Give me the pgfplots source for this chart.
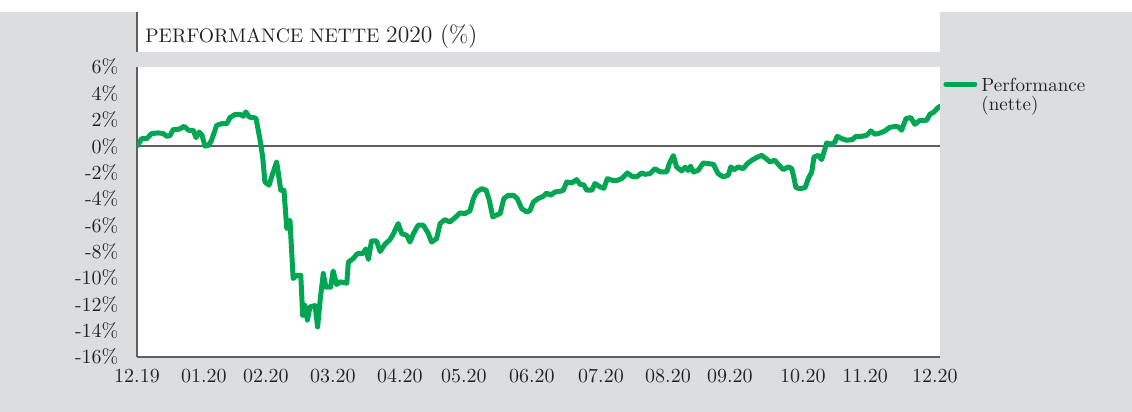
\documentclass[border=0pt]{standalone}
\usepackage{pgfplots}
\pgfplotsset{compat=1.18}
\definecolor{bg}{RGB}{220,221,223}
\definecolor{perf}{RGB}{0,166,81}
\definecolor{axgray}{RGB}{95,95,95}
\definecolor{txt}{RGB}{35,35,35}
\newcommand\lab{\fontsize{10}{10}\selectfont}
\newcommand\leg{\fontsize{9.5}{9.5}\selectfont}
\begin{document}
\begin{tikzpicture}
\fill[white] (-68.5pt,-27.5pt) rectangle (497.5pt,178.5pt);
\fill[bg] (-68.5pt,-27.5pt) rectangle (497.5pt,172.5pt);
\fill[white] (0pt,152.5pt) rectangle (401.5pt,178.5pt);
\draw[axgray, line width=0.8pt] (0pt,152.5pt) -- (0pt,172.5pt);
\node[anchor=base west, inner sep=0pt, text=txt] at (4pt,157pt) {{\fontsize{9.8}{10}\selectfont PERFORMANCE NETTE} {\fontsize{11.8}{12}\selectfont 2020 (\%)}};
\begin{axis}[
  at={(0pt,0pt)}, anchor=south west,
  scale only axis, width=401.5pt, height=145pt,
  xmin=0, xmax=253, ymin=-16, ymax=6,
  axis background/.style={fill=white},
  axis x line*=bottom, axis y line*=left,
  axis line style={-, draw=axgray, line width=0.6pt},
  major tick length=0pt,
  xtick={0,21.1,40.6,61.7,82.8,103,124.4,146.2,167.3,186.8,209.8,229.4,251.4},
  xticklabels={12.19,01.20,02.20,03.20,04.20,05.20,06.20,07.20,08.20,09.20,10.20,11.20,12.20},
  ytick={-16,-14,-12,-10,-8,-6,-4,-2,0,2,4,6},
  yticklabels={-16\%,-14\%,-12\%,-10\%,-8\%,-6\%,-4\%,-2\%,0\%,2\%,4\%,6\%},
  tick label style={font=\lab, text=txt},
  yticklabel style={xshift=-5.8pt},
  xticklabel style={yshift=-2.5pt},
  legend image code/.code={\draw[#1] (0pt,6pt) -- (14.5pt,6pt);},
  legend style={at={(axis description cs:1,1)}, anchor=north west, xshift=1.5pt, yshift=-3.5pt,
    draw=none, fill=none, inner sep=0pt, font=\leg, text=txt,
    cells={anchor=west, align=left}},
]
\addplot[axgray, line width=0.6pt, forget plot] coordinates {(0,0) (253,0)};
\addplot[perf, line width=2.5pt, line join=round, line cap=round] coordinates {
(0,0) (1.5,0.57) (3.1,0.57) (4.6,0.95) (6.7,1.0) (8.3,0.95) (9.4,0.74) (10.4,0.8) (11.4,1.25) (13.3,1.28) (14.9,1.5) (16.2,1.2) (17.7,1.2) (18.6,0.64) (19.6,1.07) (20.5,0.82) (21.4,0.0) (22.5,0.05) (23.5,0.44) (25.1,1.58) (26.7,1.7) (28.3,1.7) (29.3,2.16) (30.9,2.4) (32.5,2.4) (33.5,2.26) (34.3,2.59) (35.4,2.2) (36.7,2.16) (37.5,2.1) (38.8,0.44) (39.6,-0.83) (40.3,-2.72) (41.6,-2.97) (42.4,-2.34) (44.0,-1.2) (44.4,-1.84) (45.3,-3.35) (46.3,-3.35) (47.2,-6.26) (48.2,-5.63) (49.2,-10.05) (50.3,-9.8) (51.6,-9.8) (52.2,-12.84) (52.9,-12.08) (53.7,-13.2) (54.5,-12.2) (56.1,-12.1) (56.9,-13.72) (57.7,-11.7) (58.7,-9.67) (59.5,-10.7) (61.0,-10.7) (61.8,-9.47) (62.9,-10.5) (64.0,-10.3) (66.1,-10.4) (66.6,-8.8) (68.1,-8.54) (69.4,-8.16) (71.1,-8.16) (72.1,-7.8) (72.9,-8.6) (73.9,-7.2) (75.5,-7.2) (76.6,-8.0) (78.1,-7.45) (79.7,-7.1) (80.7,-6.7) (82.3,-5.88) (83.4,-6.64) (85.0,-6.77) (86.0,-7.28) (87.1,-6.64) (88.6,-6.0) (90.2,-6.0) (91.8,-6.64) (92.8,-7.28) (94.4,-7.02) (95.5,-5.88) (97.0,-5.58) (98.6,-5.76) (100.2,-5.43) (101.8,-5.07) (103.3,-5.12) (104.9,-4.92) (106.0,-3.98) (107.0,-3.48) (108.6,-3.23) (110.0,-3.35) (111.0,-4.11) (112.1,-5.38) (113.1,-5.25) (114.4,-5.12) (115.6,-3.98) (117.0,-3.73) (118.6,-3.73) (119.8,-3.98) (121.2,-4.74) (122.8,-5.0) (123.8,-4.9) (124.9,-4.24) (126.4,-3.98) (128.0,-3.81) (129.1,-3.56) (130.3,-3.73) (131.7,-3.48) (133.3,-3.43) (134.3,-3.35) (135.4,-2.72) (137.0,-2.8) (138.5,-2.54) (139.6,-2.9) (140.8,-2.95) (141.7,-3.35) (143.3,-3.35) (144.3,-2.84) (145.9,-3.1) (147.1,-3.2) (148.2,-2.47) (149.8,-2.6) (151.3,-2.6) (152.7,-2.47) (154.5,-2.04) (155.9,-2.29) (157.4,-2.34) (159.0,-2.04) (160.1,-2.14) (161.6,-2.09) (163.2,-1.71) (164.8,-1.96) (166.9,-1.96) (167.7,-1.33) (169.0,-0.72) (170.0,-1.58) (171.1,-1.78) (171.6,-1.89) (172.7,-1.6) (173.6,-1.85) (174.4,-1.53) (175.3,-1.96) (176.8,-1.84) (178.4,-1.28) (180.0,-1.33) (181.6,-1.38) (183.1,-2.09) (184.7,-2.34) (186.3,-2.2) (187.1,-1.58) (188.1,-1.8) (189.4,-1.58) (191.0,-1.71) (192.3,-1.33) (193.7,-1.08) (195.2,-0.87) (196.8,-0.7) (198.2,-0.95) (199.4,-1.2) (201.0,-1.08) (202.0,-1.38) (203.6,-1.78) (205.2,-1.58) (206.3,-1.71) (206.8,-2.2) (207.6,-3.15) (208.9,-3.23) (210.5,-3.15) (211.5,-2.47) (212.6,-1.96) (213.3,-0.83) (214.7,-0.7) (215.7,-1.03) (216.8,-0.19) (217.3,0.24) (218.9,0.14) (219.9,0.31) (220.6,0.74) (222.0,0.57) (223.6,0.44) (225.5,0.5) (226.5,0.74) (228.3,0.74) (229.9,0.82) (231.2,1.15) (232.5,0.9) (234.1,0.99) (235.7,1.15) (237.0,1.4) (238.8,1.5) (239.9,1.45) (240.9,1.2) (242.3,2.09) (243.8,2.16) (245.1,1.65) (246.7,1.96) (248.8,1.96) (249.8,2.41) (251.1,2.59) (252.1,2.85) (252.8,3.0)
};
\addlegendentry{Performance\\(nette)}
\end{axis}
\pgfresetboundingbox
\useasboundingbox (-68.5pt,-27.5pt) rectangle (497.5pt,178.5pt);
\end{tikzpicture}
\end{document}
